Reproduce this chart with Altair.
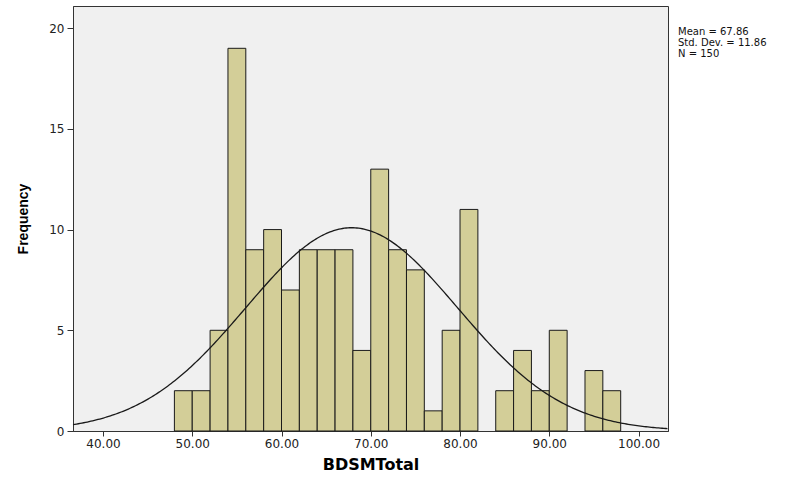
import altair as alt
import pandas as pd

# Histogram bins (width 2) and frequencies
bin_starts = [48, 50, 52, 54, 56, 58, 60, 62, 64, 66, 68, 70, 72, 74, 76, 78, 80, 82, 84, 86, 88, 90, 92, 94, 96]
counts     = [2, 2, 5, 19, 9, 10, 7, 9, 9, 9, 4, 13, 9, 8, 1, 5, 11, 0, 2, 4, 2, 5, 0, 3, 2]
bin_width = 2
stat_mean = 67.86
stat_sd = 11.86
stat_n = 150
stats_lines = ["Mean = 67.86", "Std. Dev. = 11.86", "N = 150"]
x_ticks = [40, 50, 60, 70, 80, 90, 100]
y_ticks = [0, 5, 10, 15, 20]

X_MIN, X_MAX = 36.64, 103.3
Y_MAX = 21.1

bars_df = pd.DataFrame({
    "start": bin_starts,
    "end": [b + bin_width for b in bin_starts],
    "count": counts,
})
bars_df = bars_df[bars_df["count"] > 0]

FONT = "Liberation Sans"
WIDE = "DejaVu Sans"

xscale = alt.Scale(domain=[X_MIN, X_MAX], nice=False, zero=False)
yscale = alt.Scale(domain=[0, Y_MAX], nice=False)

bars = alt.Chart(bars_df).mark_rect(
    fill="#D3CE98", stroke="#1a1a1a", strokeWidth=1
).encode(
    x=alt.X("start:Q", scale=xscale,
            axis=alt.Axis(values=x_ticks, format=".2f", title="BDSMTotal",
                          grid=False, domainColor="#333333", tickColor="#333333",
                          tickSize=5, labelFont=WIDE, labelFontSize=12,
                          labelColor="#222222", titleFont=WIDE, titleFontSize=16,
                          titleFontWeight="bold", titleColor="#000000",
                          titlePadding=7, labelPadding=2)),
    x2="end:Q",
    y=alt.Y("count:Q", scale=yscale,
            axis=alt.Axis(values=y_ticks, format="d", title="Frequency",
                          grid=False, domainColor="#333333", tickColor="#333333",
                          tickSize=6, labelFont=WIDE, labelFontSize=12,
                          labelColor="#222222", titleFont=FONT, titleFontSize=14,
                          titleFontWeight="bold", titleColor="#000000",
                          titlePadding=18, labelPadding=3)),
    y2=alt.datum(0),
)

curve = alt.Chart(alt.sequence(start=X_MIN, stop=X_MAX + 0.01, step=0.2, as_="xv")).transform_calculate(
    dens=f"{stat_n * bin_width} * densityNormal(datum.xv, {stat_mean}, {stat_sd})"
).mark_line(color="#1a1a1a", strokeWidth=1.3).encode(
    x=alt.X("xv:Q", scale=xscale),
    y=alt.Y("dens:Q", scale=yscale, axis=None),
)

stats_df = pd.DataFrame({"line": stats_lines, "row": [0, 1, 2]})
stats = alt.Chart(stats_df).mark_text(
    align="left", baseline="middle", font=WIDE, fontSize=10, color="#111111"
).encode(
    text="line:N",
    x=alt.value(605),
    y=alt.Y("row:Q", scale=alt.Scale(domain=[0, 2], range=[25.5, 47.5]), axis=None),
)

chart = alt.layer(bars, curve, stats).resolve_scale(y="independent").properties(
    width=595, height=425,
    autosize=alt.AutoSizeParams(type="none"),
    padding={"left": 73, "top": 6, "right": 135, "bottom": 50},
    background="white",
).configure_view(
    fill="#F0F0F0", stroke="#333333", strokeWidth=1
)

chart.save("out.html", embed_options={"renderer": "svg", "actions": False})
